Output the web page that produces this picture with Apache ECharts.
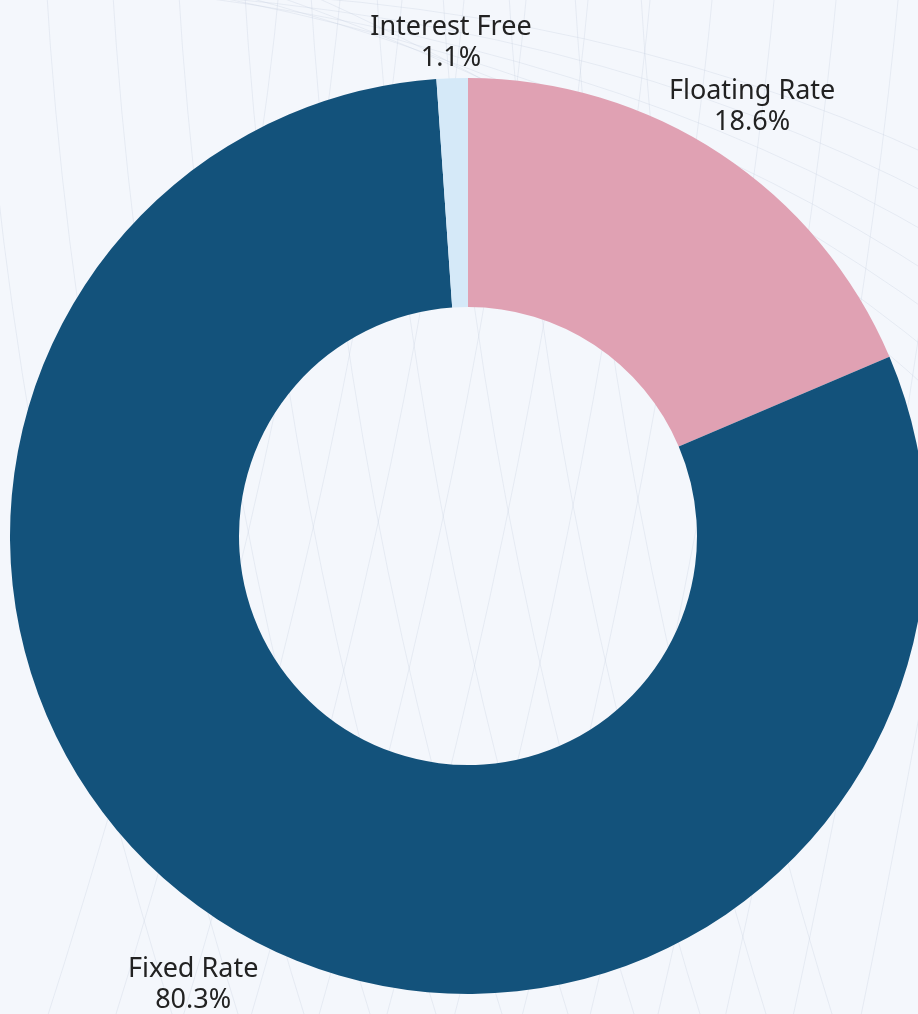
<!DOCTYPE html>
<html>
<head>
<meta charset="utf-8">
<title>Debt by Interest Type</title>
<script src="https://cdn.jsdelivr.net/npm/echarts@6/dist/echarts.min.js"></script>
<style>
  html, body { margin: 0; padding: 0; background: #f4f7fc; }
  #chart { width: 918px; height: 1014px; }
</style>
</head>
<body>
<div id="chart"></div>
<script>
// Share of debt by interest type (percent), clockwise from 12 o'clock
const categories = ['Floating Rate', 'Fixed Rate', 'Interest Free'];
const shares = [18.6, 80.3, 1.1];

// Presentation settings per slice
const sliceColors = ['#e0a1b3', '#13527b', '#d5e9f8'];
const labelOffsets = [57, 68, 35];

// Faint string-art curves in the backdrop
function backdropCurves() {
  const els = [];
  const stroke = { stroke: 'rgba(200,208,224,0.32)', lineWidth: 1, fill: null };
  // family sweeping down-left from the upper right
  for (let i = 0; i < 13; i++) {
    const x0 = 280 + i * 62;
    els.push({
      type: 'bezierCurve', silent: true, z: 0,
      shape: { x1: x0, y1: -20, x2: x0 - 240 + i * 6, y2: 1040, cpx1: x0 - 40, cpy1: 420 },
      style: stroke
    });
  }
  // family sweeping down-right
  for (let i = 0; i < 11; i++) {
    const x0 = -20 + i * 66;
    els.push({
      type: 'bezierCurve', silent: true, z: 0,
      shape: { x1: x0, y1: -20, x2: x0 + 200, y2: 1040, cpx1: x0 + 30, cpy1: 500 },
      style: stroke
    });
  }
  // gentle arcs across the upper band
  for (let i = 0; i < 7; i++) {
    els.push({
      type: 'bezierCurve', silent: true, z: 0,
      shape: { x1: 60 + i * 40, y1: -10, x2: 940, y2: 160 + i * 40, cpx1: 560 + i * 20, cpy1: -20 + i * 30 },
      style: stroke
    });
  }
  return els;
}

const chart = echarts.init(document.getElementById('chart'), null, { renderer: 'canvas' });

chart.setOption({
  backgroundColor: '#f4f7fc',
  animation: false,
  graphic: { elements: backdropCurves() },
  series: [{
    type: 'pie',
    center: [468, 536],
    radius: [229, 458],
    startAngle: 90,
    clockwise: true,
    avoidLabelOverlap: false,
    itemStyle: { borderWidth: 0 },
    label: {
      show: true,
      position: 'outside',
      distanceToLabelLine: 0,
      formatter: '{b}\n{c}%',
      fontFamily: 'Noto Sans',
      fontSize: 27,
      lineHeight: 31,
      color: '#222222'
    },
    labelLine: { show: false, length2: 0 },
    labelLayout: function () {
      return { align: 'center', verticalAlign: 'middle' };
    },
    emphasis: { disabled: true },
    data: categories.map(function (name, i) {
      return {
        name: name,
        value: shares[i],
        itemStyle: { color: sliceColors[i] },
        labelLine: { show: false, length: labelOffsets[i], length2: 0 }
      };
    })
  }]
});
</script>
</body>
</html>
